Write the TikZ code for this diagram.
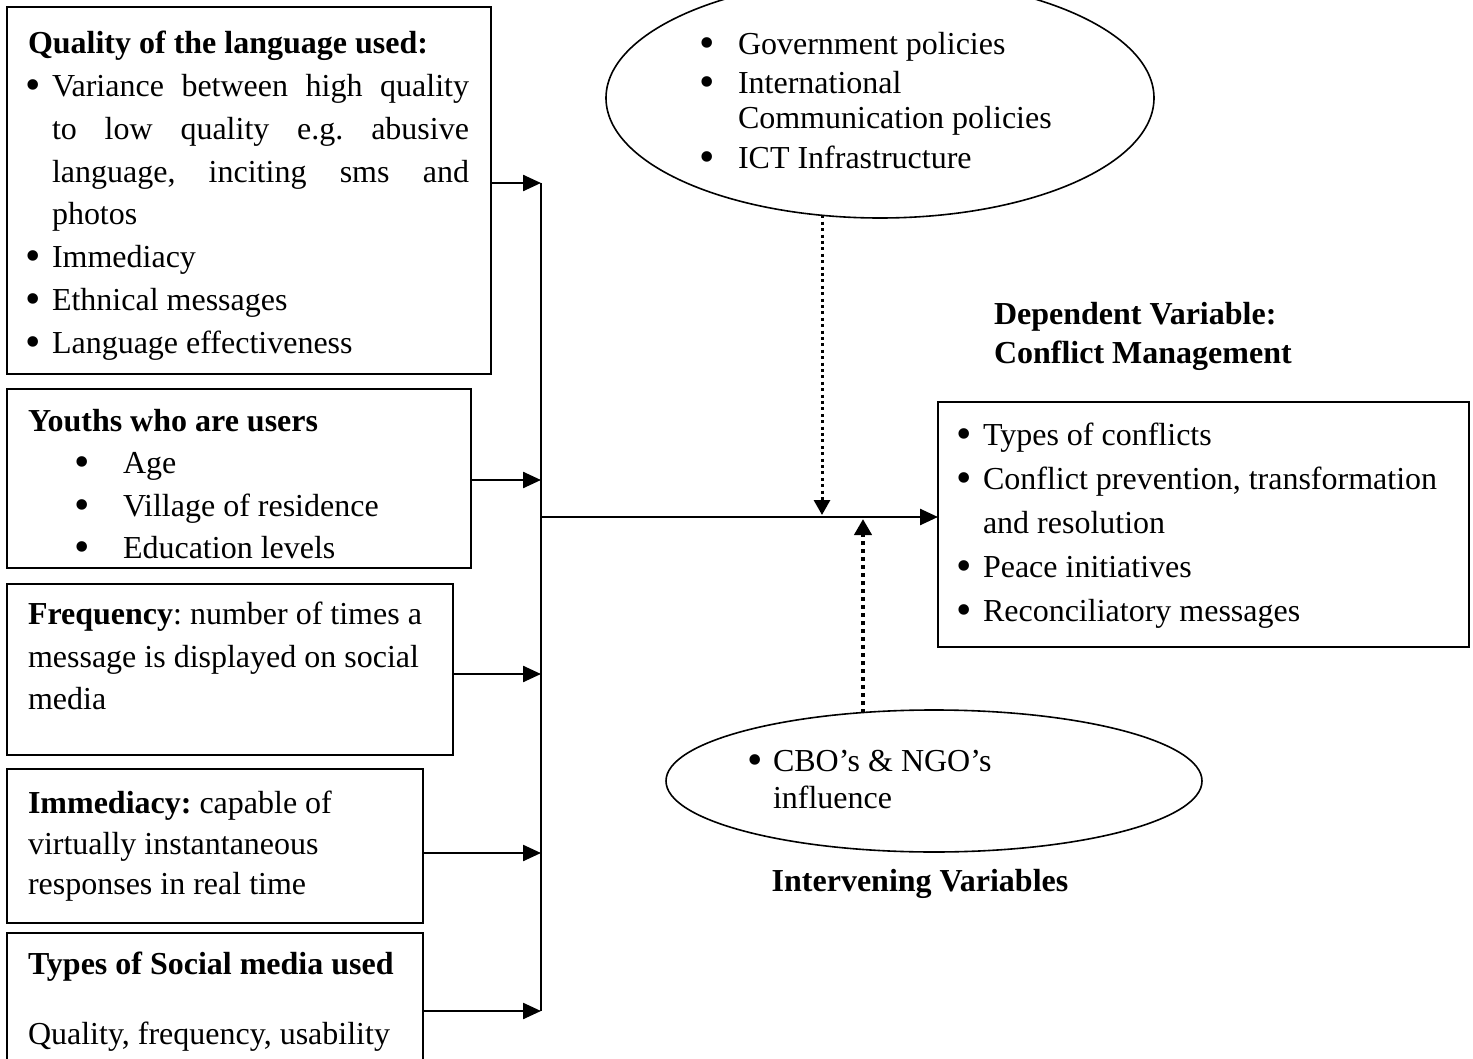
\documentclass[tikz,border=0pt]{standalone}
\usepackage{fontspec}
\setmainfont{Liberation Serif}
\usetikzlibrary{shapes.geometric,arrows.meta,calc}
\frenchspacing
\newcommand{\bigbul}{\hspace*{-2.1pt}\smash{\raisebox{-3pt}{\fontsize{44}{0}\selectfont\textbullet}}}
\begin{document}
\begin{tikzpicture}[x=1pt,y=-1pt,
  box/.style={draw,line width=2pt,anchor=north west,inner sep=0pt,outer sep=0pt},
  txt/.style={anchor=base west,inner sep=0pt,outer sep=0pt},
  ell/.style={draw,ellipse,line width=1.6pt,inner sep=0pt,outer sep=0pt},
  arr/.style={line width=2.4pt,-{Triangle[length=18pt,width=16pt]}},
  busline/.style={line width=2.2pt},
  dotdn/.style={line width=3pt,dash pattern=on 3pt off 3.4pt,-{Triangle[length=15pt,width=16pt]}},
  dotup/.style={line width=4pt,dash pattern=on 4pt off 4pt,-{Triangle[length=16pt,width=17pt]}}]
\useasboundingbox (0,0) rectangle (1473,1059);
\clip (0,0) rectangle (1473,1059);

% boxes
\node[box,minimum width=484pt,minimum height=367pt] (q) at (7,7) {};
\node[box,minimum width=464pt,minimum height=179pt] (yu) at (7,389) {};
\node[box,minimum width=446pt,minimum height=171pt] (fr) at (7,584) {};
\node[box,minimum width=416pt,minimum height=154pt] (im) at (7,769) {};
\node[box,minimum width=416pt,minimum height=160pt] (ty) at (7,933) {};
\node[box,minimum width=531pt,minimum height=245pt] (dep) at (938,402) {};

% ellipses
\node[ell,minimum width=548pt,minimum height=240pt] (ext) at (880,98) {};
\node[ell,minimum width=536pt,minimum height=142pt] (cbo) at (934,781) {};

% texts
\node[txt] (qt) at (28,53.5) {\parbox[t]{460pt}{\fontsize{32}{42.86}\selectfont
\textbf{Quality of the language used:}\\
\makebox[24pt][l]{\bigbul}\makebox[417pt][s]{Variance between high quality}\\
\hspace*{24pt}\makebox[417pt][s]{to low quality e.g. abusive}\\
\hspace*{24pt}\makebox[417pt][s]{language, inciting sms and}\\
\hspace*{24pt}photos\\
\makebox[24pt][l]{\bigbul}Immediacy\\
\makebox[24pt][l]{\bigbul}Ethnical messages\\
\makebox[24pt][l]{\bigbul}Language effectiveness}};

\node[txt] (yt) at (28,431.5) {\parbox[t]{440pt}{\fontsize{32}{42.3}\selectfont
\textbf{Youths who are users}\\
\makebox[95pt][l]{\hspace*{48.4pt}\bigbul}Age\\
\makebox[95pt][l]{\hspace*{48.4pt}\bigbul}Village of residence\\
\makebox[95pt][l]{\hspace*{48.4pt}\bigbul}Education levels}};

\node[txt] (ft) at (28,624.5) {\parbox[t]{420pt}{\fontsize{32}{42.5}\selectfont
\textbf{Frequency}: number of times a\\
message is displayed on social\\
media}};

\node[txt] (it) at (28,813.5) {\parbox[t]{390pt}{\fontsize{32}{40.5}\selectfont
\textbf{Immediacy:} capable of\\
virtually instantaneous\\
responses in real time}};

\node[txt] (tt) at (28,974.5) {\parbox[t]{390pt}{\fontsize{32}{70}\selectfont
\textbf{Types of Social media used}\\
Quality, frequency, usability}};

\node[txt] (dh) at (994,324.5) {\parbox[t]{420pt}{\fontsize{32}{39}\selectfont
\textbf{Dependent Variable:}\\
\textbf{Conflict Management}}};

\node[txt] (dt) at (958.4,445.5) {\parbox[t]{505pt}{\fontsize{32}{44}\selectfont
\makebox[24.6pt][l]{\bigbul}Types of conflicts\\
\makebox[24.6pt][l]{\bigbul}Conflict prevention, transformation\\
\hspace*{24.6pt}and resolution\\
\makebox[24.6pt][l]{\bigbul}Peace initiatives\\
\makebox[24.6pt][l]{\bigbul}Reconciliatory messages}};

\node[txt] (et) at (701.4,54.5) {\parbox[t]{420pt}{\fontsize{32}{35}\selectfont
\makebox[36.6pt][l]{\bigbul}Government policies\\[4pt]
\makebox[36.6pt][l]{\bigbul}International\\
\hspace*{36.6pt}Communication policies\\[5pt]
\makebox[36.6pt][l]{\bigbul}ICT Infrastructure}};

\node[txt] (ct) at (749.4,771.5) {\parbox[t]{400pt}{\fontsize{32}{37}\selectfont
\makebox[23.6pt][l]{\bigbul}CBO’s \& NGO’s\\
\hspace*{23.6pt}influence}};

\node[anchor=base,inner sep=0pt,font=\fontsize{32}{38}\selectfont\bfseries] (iv) at (920,891.5) {Intervening Variables};

% bus
\coordinate (b1) at (541,183);
\coordinate (b2) at (541,480);
\coordinate (b3) at (541,674);
\coordinate (b4) at (541,853);
\coordinate (b5) at (541,1011);
\coordinate (bm) at (541,517);
\draw[busline] (b1) -- (b5);
\draw[arr] (q.east |- b1) -- (b1);
\draw[arr] (yu.east |- b2) -- (b2);
\draw[arr] (fr.east |- b3) -- (b3);
\draw[arr] (im.east |- b4) -- (b4);
\draw[arr] (ty.east |- b5) -- (b5);
\draw[arr,line width=2.5pt] (bm) -- (dep.west |- bm);

% moderating arrows
\coordinate (td) at (822,515);
\coordinate (tu) at (863,519);
\draw[dotdn] (ext.-116 -| td) -- (td);
\draw[dotup] (cbo.136 -| tu) -- (tu);
\end{tikzpicture}
\end{document}
